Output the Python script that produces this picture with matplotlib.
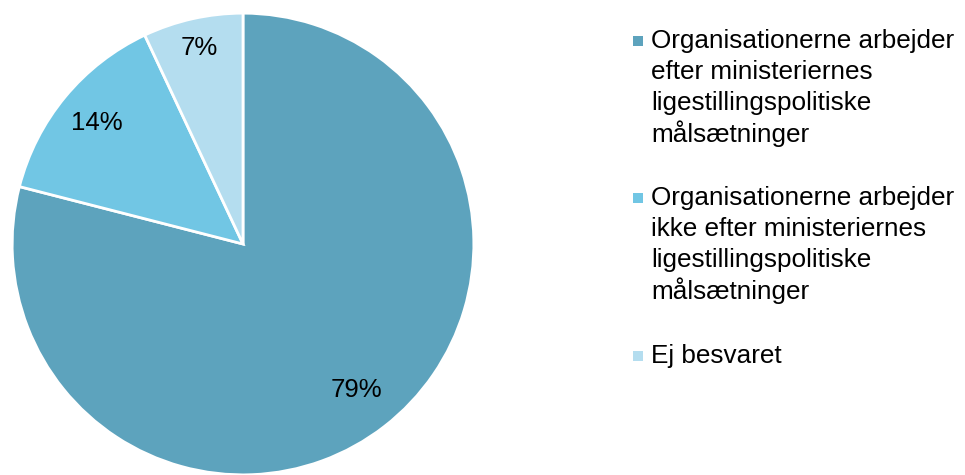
import numpy as np
import matplotlib
matplotlib.use("Agg")
import matplotlib.pyplot as plt
from matplotlib.patches import Rectangle

categories = [
    "Organisationerne arbejder\nefter ministeriernes\nligestillingspolitiske\nmålsætninger",
    "Organisationerne arbejder\nikke efter ministeriernes\nligestillingspolitiske\nmålsætninger",
    "Ej besvaret",
]
values = [79, 14, 7]
colors = ["#5DA3BD", "#71C6E4", "#B4DDEF"]
label_dist = [0.80, 0.82, 0.87]

plt.rcParams['font.family'] = ['Liberation Sans', 'DejaVu Sans']

fig = plt.figure(figsize=(9.65, 4.75), dpi=100)
ax = fig.add_axes([11 / 965, -1 / 475, 464 / 965, 464 / 475])
wedges, _ = ax.pie(values, colors=colors, startangle=90, counterclock=False,
                   radius=1.0, wedgeprops=dict(edgecolor="white", linewidth=2))
total = sum(values)
for w, v, d in zip(wedges, values, label_dist):
    ang = np.deg2rad((w.theta1 + w.theta2) / 2)
    ax.text(d * np.cos(ang), d * np.sin(ang), f"{round(100 * v / total)}%",
            ha="center", va="center", fontsize=18.5, color="black")
ax.set_xlim(-1.005, 1.005)
ax.set_ylim(-1.005, 1.005)
ax.set_aspect("equal")
ax.axis("off")

# legend
tops = [41, 198, 356]
line_h = 30.8
for lab, c, y0 in zip(categories, colors, tops):
    fig.patches.append(Rectangle((633 / 965, 1 - (y0 + 5) / 475), 10 / 965, 10 / 475,
                                 transform=fig.transFigure, facecolor=c, edgecolor="none"))
    for i, line in enumerate(lab.split("\n")):
        fig.text(651 / 965, 1 - (y0 + i * line_h) / 475, line, ha="left", va="center",
                 fontsize=18.8, color="black")

fig.savefig("out.png", dpi=100)
